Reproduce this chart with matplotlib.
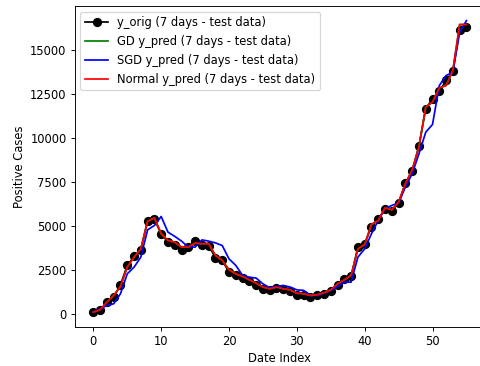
import numpy as np
import matplotlib
matplotlib.use("Agg")
from matplotlib import pyplot as plt

# 元データ (7日間 - テストデータ)
y_orig = [95, 190, 660, 950, 1650, 2750, 3260, 3640, 5300, 5360,
          4550, 4070, 3920, 3600, 3790, 4130, 3920, 3880, 3180, 3030,
          2370, 2180, 2030, 1840, 1610, 1420, 1330, 1480, 1400, 1270,
          1060, 1080, 950, 1040, 1140, 1290, 1610, 1990, 2120, 3790,
          3980, 4960, 5400, 5930, 5870, 6290, 7420, 8110, 9550, 11650,
          12220, 12650, 13260, 13770, 16140, 16290]

# 正規方程式の予測値
normal_pred = [95, 230, 660, 1040, 1550, 2650, 3220, 3690, 5260, 5450,
               4550, 4170, 4070, 3790, 3790, 4020, 3980, 3980, 3320, 3030,
               2500, 2270, 2120, 1930, 1740, 1520, 1420, 1520, 1420, 1360,
               1170, 1140, 1040, 1080, 1190, 1360, 1700, 1930, 2180, 3690,
               3940, 5080, 5300, 6020, 5910, 6350, 7390, 8180, 9470, 11750,
               12030, 12840, 12970, 13830, 16440, 16440]

# GD の予測値 (ほぼ正規方程式と同じ)
gd_pred = list(normal_pred)

# SGD の予測値
sgd_pred = [95, 280, 470, 570, 1140, 2270, 2650, 3220, 4770, 5020,
            5530, 4640, 4400, 4130, 3790, 3790, 4200, 4130, 4030, 3880,
            3120, 2750, 2180, 2080, 2030, 1700, 1480, 1550, 1610, 1520,
            1360, 1330, 1040, 1040, 1170, 1330, 1550, 1800, 1800, 3220,
            3690, 4550, 5300, 5970, 6160, 6290, 7200, 7960, 9090, 10320,
            10760, 12970, 13540, 13730, 16000, 16660]

x = np.arange(len(y_orig))

# 元画像は縮小されているので dpi を下げて合わせる
dpi = 83
fig = plt.figure(figsize=(480 / dpi, 366 / dpi), dpi=dpi)
ax = fig.add_axes([0.1556, 0.1074, 0.855, 0.876])

ax.plot(x, y_orig, color='black', marker='o', markersize=7,
        label='y_orig (7 days - test data)')
ax.plot(x, gd_pred, color='green', label='GD y_pred (7 days - test data)')
ax.plot(x, sgd_pred, color='blue', label='SGD y_pred (7 days - test data)')
ax.plot(x, normal_pred, color='red', label='Normal y_pred (7 days - test data)')

ax.set_xlabel('Date Index')
ax.set_ylabel('Positive Cases')
ax.legend(loc='upper left')

fig.savefig('out.png', dpi=dpi)
